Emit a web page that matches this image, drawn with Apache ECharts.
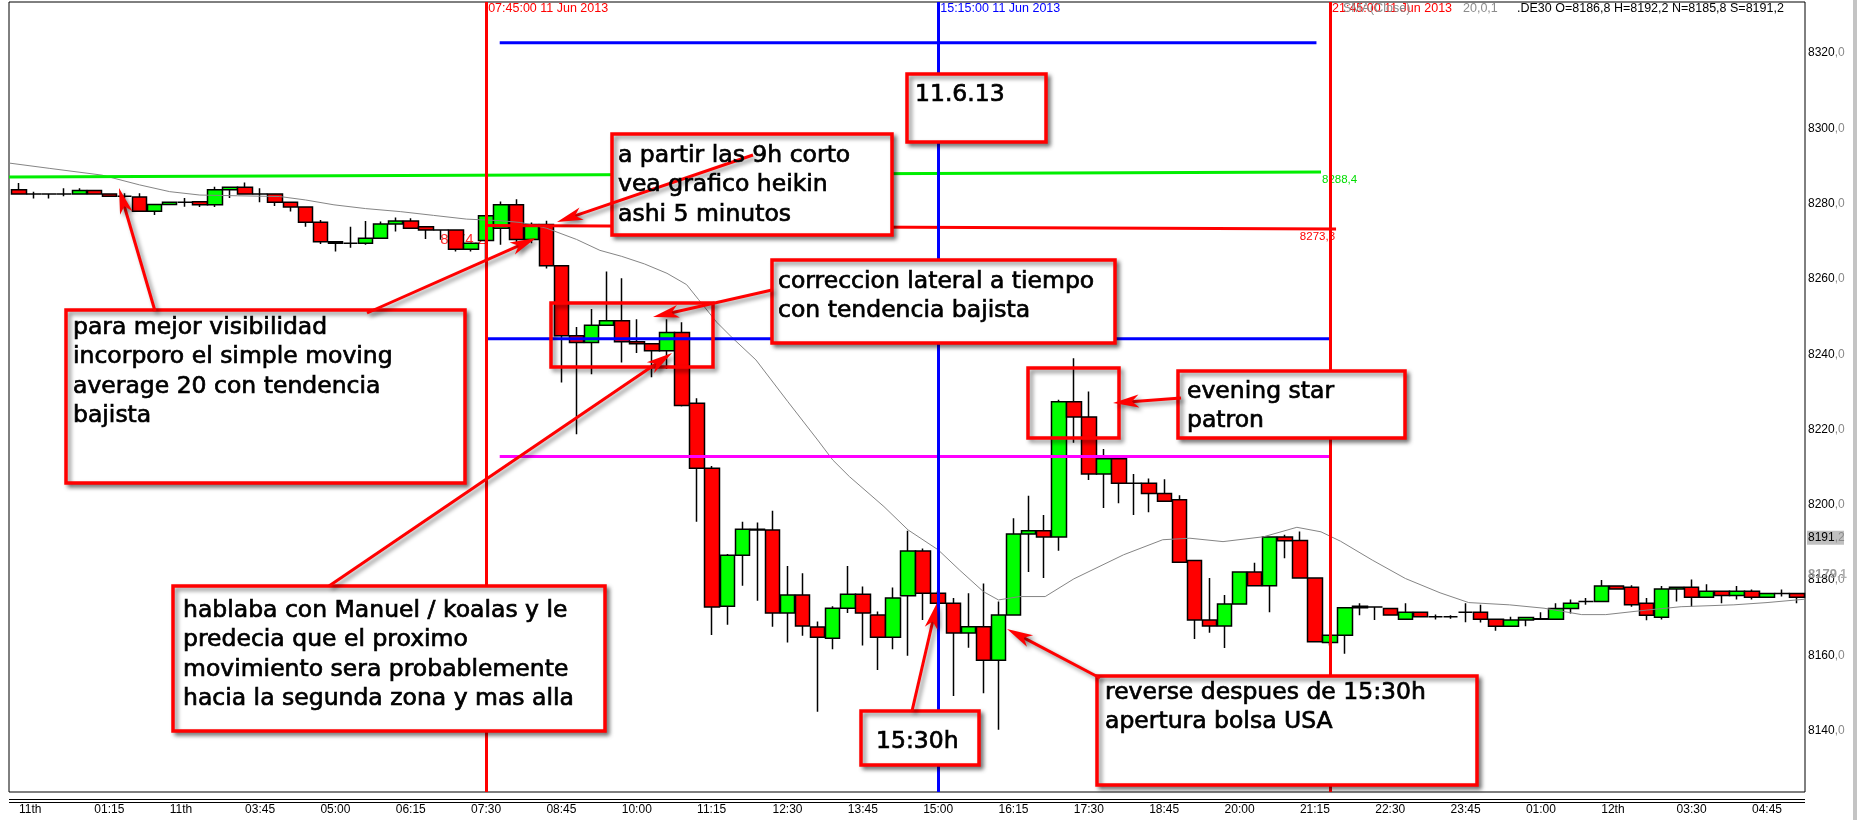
<!DOCTYPE html>
<html><head><meta charset="utf-8">
<script src="https://cdn.jsdelivr.net/npm/echarts@6/dist/echarts.min.js"></script>
<style>html,body{margin:0;padding:0;background:#fff}#c{width:1857px;height:820px}</style>
</head><body><div id="c"></div>
<script>
// ---- candle data (15-minute bars, bar 0 = 00:00 11 Jun 2013) ----
const opens = [8283.7,8282.6,8282.6,8282.6,8282.6,8283.5,8282.6,8282.0,8281.8,8278.0,
8279.8,8280.4,8280.5,8279.7,8283.7,8284.4,8282.6,8282.6,8280.4,8279.1,
8275.1,8269.9,8269.5,8269.5,8270.8,8274.6,8275.4,8273.9,8273.0,8273.0,
8267.9,8270.2,8273.5,8279.7,8270.5,8274.5,8263.5,8244.9,8243.1,8247.7,
8248.9,8243.3,8242.8,8240.9,8245.8,8227.0,8209.7,8173.0,8186.6,8193.5,
8193.3,8171.2,8176.0,8167.5,8164.5,8172.5,8176.2,8170.7,8164.8,8175.8,
8187.7,8176.5,8173.8,8165.9,8167.6,8158.7,8170.7,8192.2,8193.1,8191.4,
8227.4,8223.3,8208.2,8212.2,8205.7,8205.7,8203.0,8201.3,8185.2,8169.4,
8167.8,8173.6,8182.1,8178.5,8191.4,8190.5,8180.5,8163.4,8165.3,8172.6,
8172.8,8172.4,8169.6,8171.4,8170.2,8170.2,8171.4,8171.4,8169.6,8167.7,
8169.4,8169.7,8169.6,8172.4,8174.3,8174.3,8178.4,8178.1,8173.8,8170.1,
8177.6,8178.1,8175.4,8177.0,8175.9,8177.0,8175.4,8176.4,8176.4];
const closes = [8282.6,8282.6,8282.6,8282.6,8283.5,8282.6,8282.0,8282.0,8278.0,8279.8,
8280.4,8280.4,8279.7,8283.7,8284.4,8282.6,8282.6,8280.4,8279.1,8275.1,
8269.9,8269.5,8269.5,8270.8,8274.6,8275.4,8273.5,8273.0,8273.0,8267.9,
8269.5,8276.8,8279.7,8270.5,8274.5,8263.5,8244.9,8243.1,8247.7,8248.9,
8243.3,8242.8,8240.9,8245.8,8226.4,8209.7,8172.8,8186.6,8193.5,8193.3,
8171.2,8176.0,8167.8,8164.8,8172.5,8176.2,8171.2,8164.8,8175.2,8187.7,
8176.5,8173.8,8165.9,8167.6,8158.7,8170.7,8192.2,8193.1,8191.4,8227.4,
8223.3,8208.2,8212.2,8205.7,8205.7,8203.0,8200.9,8184.7,8169.4,8167.8,
8173.6,8182.1,8178.5,8191.4,8190.4,8180.5,8163.6,8165.3,8172.6,8173.0,
8172.8,8170.7,8171.4,8170.2,8170.2,8170.2,8171.4,8169.6,8167.7,8169.4,
8170.0,8169.6,8172.4,8173.8,8174.3,8178.4,8177.6,8173.4,8170.6,8177.6,
8178.1,8175.4,8177.0,8175.9,8177.0,8175.4,8176.4,8176.4,8175.4];
const lows = [8282.6,8281.4,8281.4,8282.0,8282.6,8282.6,8282.0,8281.4,8277.9,8277.0,
8279.8,8279.2,8279.1,8279.1,8281.5,8282.6,8280.4,8279.4,8277.9,8273.9,
8269.3,8267.3,8268.3,8269.1,8270.8,8272.6,8273.5,8270.6,8270.4,8267.3,
8267.3,8265.0,8269.1,8269.8,8269.5,8262.8,8232.5,8218.7,8234.7,8247.7,
8237.8,8240.3,8233.9,8236.1,8226.1,8195.5,8165.4,8168.1,8178.5,8174.5,
8167.6,8163.4,8165.2,8145.0,8161.6,8171.2,8162.6,8156.1,8161.6,8159.9,
8169.4,8172.0,8149.2,8162.0,8149.9,8140.2,8170.7,8182.1,8180.5,8187.8,
8216.5,8206.6,8199.1,8200.4,8197.3,8198.0,8200.9,8184.7,8164.3,8166.0,
8161.9,8173.6,8178.5,8171.4,8185.8,8180.5,8163.6,8162.6,8160.4,8170.6,
8169.4,8170.7,8169.6,8170.2,8169.5,8169.7,8168.8,8168.7,8166.5,8167.6,
8167.7,8169.6,8169.6,8171.1,8173.4,8174.3,8177.6,8172.9,8169.3,8169.5,
8174.3,8172.9,8175.4,8173.8,8174.8,8174.8,8175.4,8175.6,8173.8];
const highs = [8285.5,8283.2,8282.6,8284.1,8284.1,8283.5,8282.6,8282.8,8282.8,8279.8,
8280.4,8281.5,8280.5,8284.5,8284.6,8285.6,8284.1,8282.6,8280.4,8279.1,
8275.7,8269.9,8273.9,8275.4,8275.3,8276.3,8276.1,8273.9,8273.0,8273.0,
8269.5,8276.8,8280.6,8281.2,8275.0,8275.5,8263.5,8247.2,8252.0,8262.0,
8260.2,8249.3,8242.8,8249.3,8248.5,8228.3,8210.3,8186.9,8195.5,8195.3,
8198.4,8183.7,8181.8,8169.0,8173.0,8183.7,8178.3,8171.6,8178.0,8193.1,
8188.4,8177.0,8175.2,8176.5,8179.1,8174.3,8196.4,8202.4,8197.3,8227.9,
8238.9,8230.1,8214.8,8212.2,8208.2,8207.0,8206.8,8202.5,8185.2,8180.5,
8176.0,8182.1,8184.6,8191.4,8192.0,8192.9,8180.5,8165.3,8172.6,8173.8,
8172.8,8172.4,8173.8,8171.4,8170.8,8170.6,8173.8,8173.4,8169.6,8170.2,
8170.0,8171.4,8173.8,8174.8,8175.2,8180.0,8178.4,8178.6,8175.2,8178.4,
8178.1,8180.1,8178.9,8177.0,8178.4,8177.5,8176.4,8177.5,8176.4];

// ---- SMA 20 (read points: bar position, value) ----
const maBars = [-0.66,2,5.5,8,10,12,14.5,17.3,19,20.9,23,25.3,27.5,29.7,31.9,33.3,35,37,38.55,40,41.5,43,44.3,45.1,46.3,47.3,48.9,51,53,54,55.1,57.4,59,61,62.4,64,65,66.4,68.1,70,73.3,75.9,77.7,79.9,82.6,84.8,86.4,87.7,89.8,92,94.3,96.2,98.9,101.2,103.7,105.3,108,110.3,113.8,116,118.52];
const maValues = [8290.8,8289.4,8287.6,8285.0,8283.2,8282.3,8282.1,8281.9,8281.0,8279.7,8278.7,8277.9,8276.9,8275.9,8275.5,8275.0,8273.5,8270.5,8267.6,8266.0,8264.0,8261.5,8258.5,8254.5,8248.5,8244.5,8238.5,8227.5,8217.2,8211.9,8207.5,8199.5,8193.3,8188.0,8182.7,8176.9,8174.7,8175.6,8175.6,8180.3,8186.7,8190.7,8191.1,8190.2,8191.5,8194.0,8192.8,8190.3,8185.3,8180.4,8176.6,8174.0,8173.4,8172.5,8170.8,8170.8,8172.0,8172.9,8173.4,8174.0,8174.9];

// ---- horizontal level lines: [fromBar, fromValue, toBar, toValue] ----
const greenLevel = [-0.66, 8287.1, 86.4, 8288.4];
const redLevel = [31, 8274.2, 87.4, 8273.3];
const blueTopLevel = [31.9, 8322.8, 86.1, 8322.8];
const blueMidLevel = [31, 8244.1, 87, 8244.1];
const magentaLevel = [31.9, 8212.8, 87, 8212.8];

// ---- vertical time lines ----
const vLineBars = [31, 61, 87];
const vLineColors = ['#ff0000', '#0000ff', '#ff0000'];
const vLineTexts = ['07:45:00 11 Jun 2013', '15:15:00 11 Jun 2013', '21:45:00 11 Jun 2013'];

// ---- axis ticks ----
const xTickBars = [0,5,10,15,20,25,30,35,40,45,50,55,60,65,70,75,80,85,90,95,100,105,110,115];
const xTickLabels = ['11th','01:15','11th','03:45','05:00','06:15','07:30','08:45','10:00','11:15','12:30','13:45','15:00','16:15','17:30','18:45','20:00','21:15','22:30','23:45','01:00','12th','03:30','04:45'];
const yTicks = [8140,8160,8180,8200,8220,8240,8260,8280,8300,8320];

const candles = opens.map((o, i) => [i, o, closes[i], lows[i], highs[i]]);
const maData = maBars.map((b, i) => [b, maValues[i]]);
const seg = a => [[a[0], a[1]], [a[2], a[3]]];

const chart = echarts.init(document.getElementById('c'));
const FONT = '"Liberation Sans", Arial, sans-serif';

function level(name, arr, color) {
  return {type:'line', name, data: seg(arr), showSymbol:false, silent:true, z:4,
    lineStyle:{color, width:3}, animation:false};
}

chart.setOption({
  animation:false,
  backgroundColor:'#ffffff',
  grid:{left:9, top:2, right:52, bottom:28, show:true, borderColor:'#000', borderWidth:1, backgroundColor:'#fff'},
  xAxis:{type:'value', min:-0.664, max:118.52, axisLine:{show:false}, axisTick:{show:false}, splitLine:{show:false},
    axisLabel:{customValues:xTickBars, align:'left', margin:12, fontFamily:FONT, fontSize:12, color:'#000',
      formatter:v => { const k = xTickBars.indexOf(Math.round(v)); return k >= 0 ? xTickLabels[k] : ''; }}},
  yAxis:{type:'value', position:'right', min:8123.66, max:8333.6, scale:true,
    axisLine:{show:false}, axisTick:{show:false}, splitLine:{show:false},
    axisLabel:{customValues:yTicks, margin:3, fontFamily:FONT, fontSize:12,
      formatter:v => '{a|' + v + '}{b|,0}',
      rich:{a:{color:'#000', fontFamily:FONT, fontSize:12}, b:{color:'#8a8a8a', fontFamily:FONT, fontSize:12}}}},
  series:[
    {type:'candlestick', name:'DE30', data:candles, encode:{x:0, y:[1,2,3,4]}, barWidth:15, z:2,
      itemStyle:{color:'#00ff00', color0:'#ff0000', borderColor:'#000', borderColor0:'#000', borderColorDoji:'#000', borderWidth:1.5},
      markLine:{silent:true, symbol:['none','none'], label:{show:false}, z:6,
        data: vLineBars.map((b, i) => ({xAxis:b, lineStyle:{color:vLineColors[i], width:3, type:'solid'}}))}},
    {type:'line', name:'SMA20', data:maData, showSymbol:false, silent:true, z:3, lineStyle:{color:'#858585', width:1}},
    level('green', greenLevel, '#00ee00'),
    level('red', redLevel, '#ff0000'),
    level('blueTop', blueTopLevel, '#0000ff'),
    level('blueMid', blueMidLevel, '#0000ff'),
    level('magenta', magentaLevel, '#ff00ff')
  ]
});

const P = (x, y) => chart.convertToPixel({gridIndex:0}, [x, y]);
const shadow = {shadowBlur:4, shadowOffsetX:3, shadowOffsetY:3, shadowColor:'rgba(0,0,0,0.45)'};
const BOXFONT = '23.5px "DejaVu Sans", Verdana, sans-serif';
const g = [];

function box(x, y, w, h, text, tx, ty) {
  g.push({type:'rect', z:100, shape:{x, y, width:w, height:h}, style:Object.assign({fill:'#fff', stroke:'#ff0000', lineWidth:3.5}, shadow)});
  g.push({type:'text', z:102, style:{text, x:tx, y:ty, font:BOXFONT, fill:'#000', lineHeight:29.5, textVerticalAlign:'top', stroke:'#000', lineWidth:0.7}});
}
function frame(x, y, w, h) {
  g.push({type:'rect', z:99, shape:{x, y, width:w, height:h}, style:Object.assign({fill:null, stroke:'#ff0000', lineWidth:3.5}, shadow)});
}
function arrow(x1, y1, x2, y2) {
  const dx = x2 - x1, dy = y2 - y1, L = Math.hypot(dx, dy), ux = dx / L, uy = dy / L;
  const hl = 26, hw = 6.5;
  const bx = x2 - ux * hl, by = y2 - uy * hl;
  g.push({type:'line', z:101, shape:{x1, y1, x2:bx + ux * 8, y2:by + uy * 8}, style:Object.assign({stroke:'#ff0000', lineWidth:3}, shadow)});
  g.push({type:'polygon', z:101, shape:{points:[[x2, y2], [bx - uy * hw, by + ux * hw], [bx + ux * 7, by + uy * 7], [bx + uy * hw, by - ux * hw]]}, style:Object.assign({fill:'#ff0000'}, shadow)});
}
function txt(text, x, y, color, extra) {
  g.push(Object.assign({type:'text', z:90, style:Object.assign({text, x, y, font:'12.5px ' + FONT, fill:color, textVerticalAlign:'middle'}, extra || {})}));
}

// header texts at vertical lines
vLineBars.forEach((b, i) => txt(vLineTexts[i], P(b, 8300)[0] + 2, 9, vLineColors[i]));
txt('SMA(Close)', 1343, 9, '#8c8c8c');
txt('20,0,1', 1463, 9, '#8c8c8c');
txt('.DE30 O=8186,8 H=8192,2 N=8185,8 S=8191,2', 1517, 9, '#000');

// level labels
(() => {
  const pg = P(greenLevel[2], greenLevel[3]);
  g.push({type:'text', z:5, style:{text:'8288,4', x:pg[0] + 1, y:pg[1] + 8, font:'11.5px ' + FONT, fill:'#00dd00', textVerticalAlign:'middle'}});
  const pr = P(redLevel[2], redLevel[3]);
  g.push({type:'text', z:5, style:{text:'8273,3', x:pr[0] - 1, y:pr[1] + 8, font:'11.5px ' + FONT, fill:'#ff0000', textAlign:'right', textVerticalAlign:'middle'}});
  const pl = P(redLevel[0], redLevel[1]);
  g.push({type:'text', z:1, style:{text:'8274,2', x:pl[0], y:pl[1] + 14, font:'15px ' + FONT, fill:'#ff2a2a', textAlign:'right', textVerticalAlign:'middle'}});
})();

// special price labels on the value axis
(() => {
  const x0 = P(118.52, 8191.2)[0] + 2;
  const y1 = P(0, 8191.2)[1];
  g.push({type:'rect', z:95, shape:{x:x0, y:y1 - 7, width:37, height:14}, style:{fill:'#c0c0c0'}});
  g.push({type:'text', z:96, style:{text:'{a|8191}{b|,2}', x:x0 + 1, y:y1, textVerticalAlign:'middle',
    rich:{a:{fill:'#000', font:'12px ' + FONT}, b:{fill:'#8a8a8a', font:'12px ' + FONT}}}});
  const y2 = P(0, 8179.1)[1];
  g.push({type:'text', z:96, style:{text:'{a|8179}{b|,1}', x:x0 + 1, y:y2 - 9, textVerticalAlign:'middle',
    rich:{a:{fill:'#9a9a9a', font:'bold 13px ' + FONT}, b:{fill:'#b0b0b0', font:'bold 12px ' + FONT}}}});
})();

// double rule below the plot and right scroll bar
g.push({type:'line', z:50, shape:{x1:9, y1:799.5, x2:1805, y2:799.5}, style:{stroke:'#000', lineWidth:1}});
g.push({type:'line', z:50, shape:{x1:9, y1:802.5, x2:1805, y2:802.5}, style:{stroke:'#000', lineWidth:1}});
g.push({type:'rect', z:50, shape:{x:1853, y:0, width:4, height:820}, style:{fill:'#c4c4c4'}});

// annotation frames
frame(551, 303, 162, 64);
frame(1028, 368, 91, 70);

// annotation boxes
box(907, 74, 139, 68, '11.6.13', 915, 80);
box(612, 134, 280, 101, 'a partir las 9h corto\nvea grafico heikin\nashi 5 minutos', 618, 141);
box(772, 260, 343, 83, 'correccion lateral a tiempo\ncon tendencia bajista', 778, 267);
box(66, 310, 399, 173, 'para mejor visibilidad\nincorporo el simple moving\naverage 20 con tendencia\nbajista', 73, 313);
box(173, 586, 432, 145, 'hablaba con Manuel / koalas y le\npredecia que el proximo\nmovimiento sera probablemente\nhacia la segunda zona y mas alla', 183, 596);
box(1178, 371, 227, 67, 'evening star\npatron', 1187, 377);
box(861, 711, 118, 54, '15:30h', 876, 727);
box(1097, 676, 380, 109, 'reverse despues de 15:30h\napertura bolsa USA', 1105, 678);

// arrows (tail -> tip)
arrow(155, 311, 119, 188);
arrow(367, 313, 536, 238);
arrow(753, 155, 557, 222);
arrow(772, 290, 653, 317);
arrow(329, 586, 672, 353);
arrow(912, 711, 937, 603);
arrow(1100, 678, 1007, 629);
arrow(1181, 398, 1113, 403);

chart.setOption({graphic:g});
</script>
</body></html>
